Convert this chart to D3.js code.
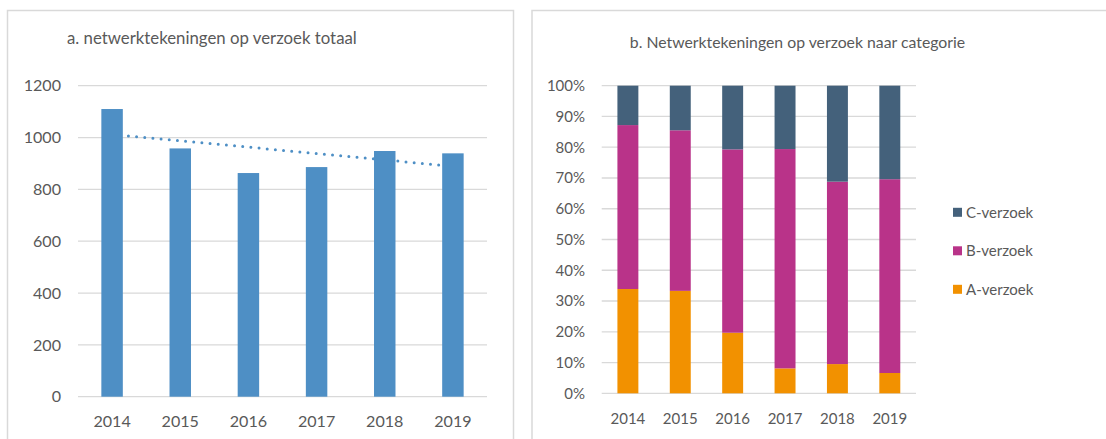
<!DOCTYPE html>
<html>
<head>
<meta charset="utf-8">
<script src="https://cdn.jsdelivr.net/npm/d3@7"></script>
<style>
  body { margin: 0; background: #fff; }
  text { font-family: Lato, "Open Sans", sans-serif; fill: #595959; }
</style>
</head>
<body>
<div id="chart"></div>
<script>
// data
var years = ["2014", "2015", "2016", "2017", "2018", "2019"];
var totals = [1110, 958, 863, 886, 948, 939];

var categories = ["A-verzoek", "B-verzoek", "C-verzoek"];
var shareA = [33.9, 33.3, 19.7, 8.1, 9.5, 6.6];
var shareB = [53.3, 52.2, 59.6, 71.3, 59.3, 63.0];
var shareC = [12.8, 14.5, 20.7, 20.6, 31.2, 30.4];

var yTicksA = [0, 200, 400, 600, 800, 1000, 1200];
var yTicksB = [0, 10, 20, 30, 40, 50, 60, 70, 80, 90, 100];

var catColour = d3.scaleOrdinal()
  .domain(categories)
  .range(["#f29100", "#b93389", "#44617b"]);

var width = 1106, height = 439;
var gridCol = "#d9d9d9";

var svg = d3.select("#chart").append("svg")
  .attr("width", width)
  .attr("height", height);

// panel frames
svg.append("path")
  .attr("d", "M7.5,445 V10.5 H513.5 V445")
  .attr("fill", "none").attr("stroke", gridCol).attr("stroke-width", 1.5);
svg.append("path")
  .attr("d", "M532,445 V10.5 H1110")
  .attr("fill", "none").attr("stroke", gridCol).attr("stroke-width", 1.5);

// ---------- chart a ----------
var xa = d3.scaleBand().domain(years).range([78, 487]).paddingInner(0.685).paddingOuter(0.3425);
var ya = d3.scaleLinear().domain([0, 1200]).range([396.7, 85.7]);

var ga = svg.append("g");

ga.append("text")
  .attr("x", 67).attr("y", 44)
  .style("font-size", "16.8px")
  .text("a. netwerktekeningen op verzoek totaal");

ga.append("g").selectAll("line")
  .data(yTicksA)
  .enter().append("line")
  .attr("x1", 78).attr("x2", 487)
  .attr("y1", function(d) { return ya(d); })
  .attr("y2", function(d) { return ya(d); })
  .attr("stroke", gridCol).attr("stroke-width", 1.3);

var yAxisA = d3.axisLeft(ya).tickValues(yTicksA).tickSize(0).tickPadding(0)
  .tickFormat(d3.format("d"));
ga.append("g")
  .attr("transform", "translate(61,0)")
  .call(yAxisA)
  .call(function(g) { g.select(".domain").remove(); })
  .selectAll("text").style("font-size", "16.1px").attr("fill", "#595959");

// linear trend line (behind the bars)
var n = totals.length;
var mx = (n + 1) / 2, my = d3.mean(totals);
var sxy = d3.sum(totals, function(v, i) { return (i + 1 - mx) * (v - my); });
var sxx = d3.sum(totals, function(v, i) { return (i + 1 - mx) * (i + 1 - mx); });
var slope = sxy / sxx;
var trend = years.map(function(y, i) { return { year: y, v: my + slope * (i + 1 - mx) }; });

ga.append("path")
  .datum(trend)
  .attr("d", d3.line()
    .x(function(d) { return xa(d.year) + xa.bandwidth() / 2; })
    .y(function(d) { return ya(d.v); }))
  .attr("fill", "none")
  .attr("stroke", "#4e8fc5")
  .attr("stroke-width", 3)
  .attr("stroke-linecap", "round")
  .attr("stroke-dasharray", "0,8.2");

ga.append("g").selectAll("rect")
  .data(totals)
  .enter().append("rect")
  .attr("x", function(d, i) { return xa(years[i]); })
  .attr("width", xa.bandwidth())
  .attr("y", function(d) { return ya(d); })
  .attr("height", function(d) { return ya(0) - ya(d); })
  .attr("fill", "#4e8fc5");

var xAxisA = d3.axisBottom(xa).tickSize(0).tickPadding(0);
ga.append("g")
  .attr("transform", "translate(0,415.5)")
  .call(xAxisA)
  .call(function(g) { g.select(".domain").remove(); })
  .selectAll("text").style("font-size", "16.1px").attr("fill", "#595959");

// ---------- chart b ----------
var xb = d3.scaleBand().domain(years).range([601.7, 916]).paddingInner(0.6).paddingOuter(0.3);
var yb = d3.scaleLinear().domain([0, 100]).range([393.3, 85.7]);

var gb = svg.append("g");

gb.append("text")
  .attr("x", 797.5).attr("y", 48)
  .attr("text-anchor", "middle")
  .style("font-size", "15.8px")
  .text("b. Netwerktekeningen op verzoek naar categorie");

gb.append("g").selectAll("line")
  .data(yTicksB)
  .enter().append("line")
  .attr("x1", 601.7).attr("x2", 916)
  .attr("y1", function(d) { return yb(d); })
  .attr("y2", function(d) { return yb(d); })
  .attr("stroke", gridCol).attr("stroke-width", 1.3);

var yAxisB = d3.axisLeft(yb).tickValues(yTicksB).tickSize(0).tickPadding(0)
  .tickFormat(function(d) { return d + "%"; });
gb.append("g")
  .attr("transform", "translate(585,0)")
  .call(yAxisB)
  .call(function(g) { g.select(".domain").remove(); })
  .selectAll("text").style("font-size", "15px").attr("fill", "#595959");

var rows = years.map(function(y, i) {
  return { year: y, "A-verzoek": shareA[i], "B-verzoek": shareB[i], "C-verzoek": shareC[i] };
});
var stacked = d3.stack().keys(categories)(rows);

gb.append("g").selectAll("g")
  .data(stacked)
  .enter().append("g")
  .attr("fill", function(d) { return catColour(d.key); })
  .selectAll("rect")
  .data(function(d) { return d; })
  .enter().append("rect")
  .attr("x", function(d) { return xb(d.data.year); })
  .attr("width", xb.bandwidth())
  .attr("y", function(d) { return yb(d[1]); })
  .attr("height", function(d) { return yb(d[0]) - yb(d[1]); });

var xAxisB = d3.axisBottom(xb).tickSize(0).tickPadding(0);
gb.append("g")
  .attr("transform", "translate(0,413)")
  .call(xAxisB)
  .call(function(g) { g.select(".domain").remove(); })
  .selectAll("text").style("font-size", "15px").attr("fill", "#595959");

// legend, C on top
var legendItems = categories.slice().reverse();
var legend = gb.append("g").selectAll("g")
  .data(legendItems)
  .enter().append("g")
  .attr("transform", function(d, i) { return "translate(953," + (212.3 + i * 38.5) + ")"; });
legend.append("rect")
  .attr("x", 0).attr("y", -4.5)
  .attr("width", 9).attr("height", 9)
  .attr("fill", function(d) { return catColour(d); });
legend.append("text")
  .attr("x", 13).attr("y", 0)
  .attr("dy", "0.35em")
  .style("font-size", "15px")
  .text(function(d) { return d; });
</script>
</body>
</html>
